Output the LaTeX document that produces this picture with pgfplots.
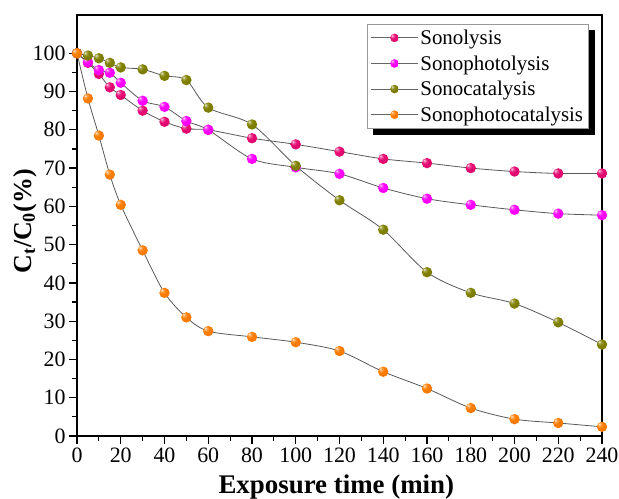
\documentclass[border=0pt]{standalone}
\usepackage{pgfplots}
\pgfplotsset{compat=1.18}
\usepackage{fontspec}
\setmainfont{Liberation Serif}
\definecolor{csono}{RGB}{230,10,115}
\definecolor{cphoto}{RGB}{255,0,255}
\definecolor{ccat}{RGB}{128,128,0}
\definecolor{cpc}{RGB}{255,125,0}
\pgfdeclarelayer{background}
\pgfsetlayers{background,main}
\makeatletter
\pgfdeclareradialshading[tikz@ball]{myball}{\pgfqpoint{-14bp}{14bp}}{%
  color(0bp)=(tikz@ball!15!white); color(7bp)=(tikz@ball!70!white);
  color(16bp)=(tikz@ball); color(45bp)=(tikz@ball!92!black); color(70bp)=(tikz@ball!75!black)}
\pgfdeclareplotmark{myball}{%
  \pgfpathcircle{\pgfpointorigin}{\pgfplotmarksize}%
  \pgfshadepath{myball}{0}\pgfusepath{}}
\makeatother
\begin{document}
\begin{tikzpicture}
\useasboundingbox (-77bp,-63bp) rectangle (542bp,436bp);
\begin{axis}[
  scale only axis, width=525bp, height=421bp,
  xmin=0, xmax=240, ymin=0, ymax=110,
  xtick={0,20,...,240}, ytick={0,10,...,100},
  minor x tick num=1, minor y tick num=1,
  tick align=outside, xtick pos=left, ytick pos=left,
  major tick length=8bp, minor tick length=5bp,
  tick style={line width=1.2bp, black},
  axis line style={line width=1.5bp},
  /pgf/number format/assume math mode=true,
  ticklabel style={font=\fontsize{22}{22}\selectfont},
  xlabel={\textbf{Exposure time (min)}},
  ylabel={\textbf{C\textsubscript{t}/C\textsubscript{0}(\%)}},
  xlabel style={font=\fontsize{27}{27}\selectfont, at={(axis description cs:0.494,-0.121)}, anchor=center},
  ylabel style={font=\fontsize{26}{26}\selectfont, at={(axis description cs:-0.099,0.51)}, anchor=center},
  legend style={name=myleg, at={(1,1)}, anchor=north east, xshift=-13bp, yshift=-9bp,
    draw=gray!80, fill=white, line width=0.8bp,
    font=\fontsize{21}{25}\selectfont, row sep=5.6bp, inner sep=3.5bp},
  legend cell align=left,
  legend image code/.code={%
    \draw[sharp plot, black!60, line width=0.8bp] (0bp,0bp) -- (47bp,0bp);
    \path[only marks, mark=myball, mark size=4.3bp] plot coordinates {(23.5bp,0bp)};},
  every axis plot/.append style={smooth, color=black!65, line width=0.8bp, mark=myball, mark size=5.2bp},
]
\addplot[mark options={ball color=csono}] coordinates {
(0,100) (5,97.5) (10,94.6) (15,91.1) (20,89.1) (30,85.0) (40,82.1) (50,80.3) (60,80.0)
(80,77.8) (100,76.2) (120,74.3) (140,72.4) (160,71.3) (180,70.0) (200,69.1) (220,68.6) (240,68.6)};
\addlegendentry{Sonolysis}
\addplot[mark options={ball color=cphoto}] coordinates {
(0,100) (5,97.7) (10,95.6) (15,94.9) (20,92.3) (30,87.6) (40,86.0) (50,82.3) (60,80.0)
(80,72.4) (100,70.2) (120,68.5) (140,64.8) (160,62.0) (180,60.4) (200,59.1) (220,58.1) (240,57.7)};
\addlegendentry{Sonophotolysis}
\addplot[mark options={ball color=ccat}] coordinates {
(0,100) (5,99.4) (10,98.7) (15,97.5) (20,96.3) (30,95.8) (40,94.1) (50,93.0) (60,85.8)
(80,81.4) (100,70.6) (120,61.6) (140,53.9) (160,42.8) (180,37.4) (200,34.6) (220,29.7) (240,23.9)};
\addlegendentry{Sonocatalysis}
\addplot[mark options={ball color=cpc}] coordinates {
(0,100) (5,88.2) (10,78.5) (15,68.3) (20,60.4) (30,48.5) (40,37.4) (50,31.0) (60,27.4)
(80,25.9) (100,24.5) (120,22.2) (140,16.8) (160,12.4) (180,7.3) (200,4.4) (220,3.4) (240,2.4)};
\addlegendentry{Sonophotocatalysis}
\end{axis}
\begin{pgfonlayer}{background}
\fill[black] ([shift={(6bp,-6bp)}]myleg.south west) rectangle ([shift={(6bp,-6bp)}]myleg.north east);
\end{pgfonlayer}
\end{tikzpicture}
\end{document}
